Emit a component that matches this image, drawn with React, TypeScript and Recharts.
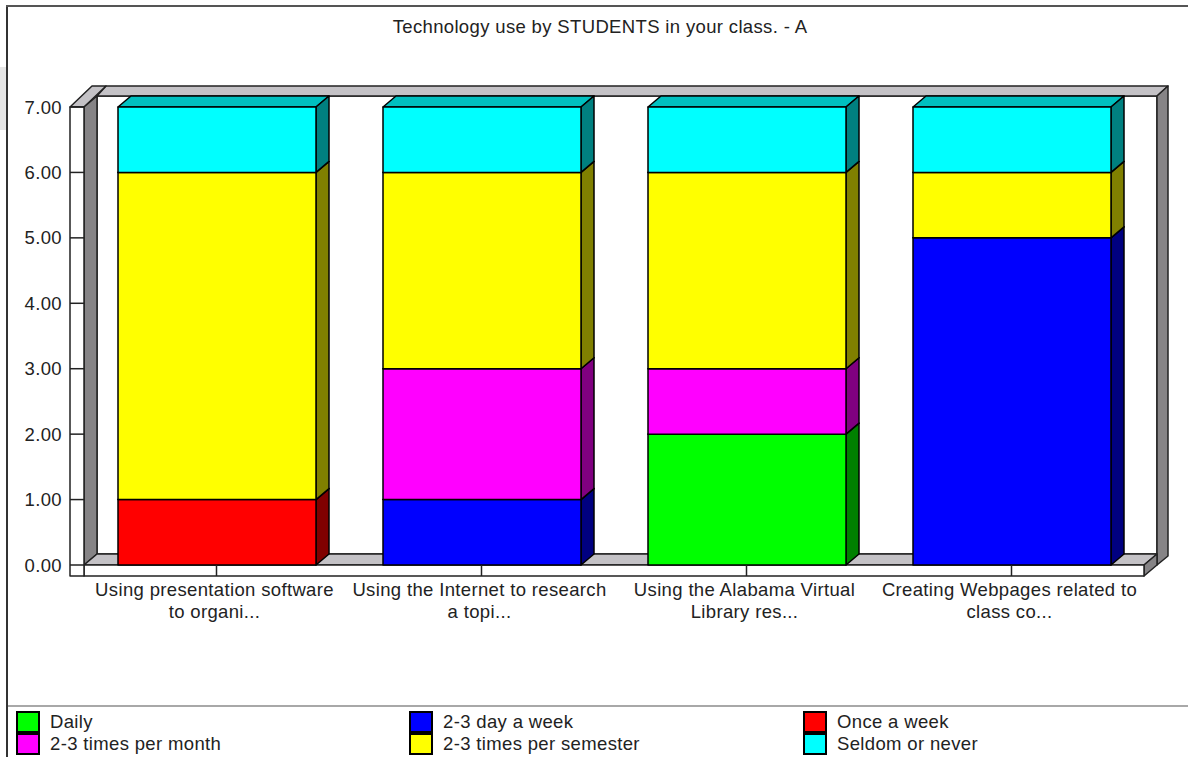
import { Bar, BarChart, Legend, XAxis, YAxis } from 'recharts';

const categoryLines = [
  ['Using presentation software', 'to organi...'],
  ['Using the Internet to research', 'a topi...'],
  ['Using the Alabama Virtual', 'Library res...'],
  ['Creating Webpages related to', 'class co...'],
];
const daily = [0, 0, 2, 0];
const dayAWeek = [0, 1, 0, 5];
const onceAWeek = [1, 0, 0, 0];
const timesPerMonth = [0, 2, 1, 0];
const timesPerSemester = [5, 3, 3, 1];
const seldom = [1, 1, 1, 1];
const yTicks = [0, 1, 2, 3, 4, 5, 6, 7];

const FONT = '"Liberation Sans", Arial, sans-serif';
const FONT_SIZE = 18.5;
const SPACING = 0.35;
const WIDTH = 1188;
const HEIGHT = 757;
const LEGEND_HEIGHT = 44;
const LEFT = 84;
const RIGHT = 1144;
const TOP = 107;
const BOTTOM = 565;
const STRIP = 11;
const DX = 13;
const DY = 11;

const data = categoryLines.map((lines, i) => ({
  name: lines.join(' '),
  daily: daily[i],
  dayAWeek: dayAWeek[i],
  onceAWeek: onceAWeek[i],
  timesPerMonth: timesPerMonth[i],
  timesPerSemester: timesPerSemester[i],
  seldom: seldom[i],
}));

const series = [
  { key: 'daily', name: 'Daily', front: '#00ff00', top: '#00c000', side: '#008000' },
  { key: 'dayAWeek', name: '2-3 day a week', front: '#0000ff', top: '#0000c0', side: '#000080' },
  { key: 'onceAWeek', name: 'Once a week', front: '#ff0000', top: '#c00000', side: '#800000' },
  { key: 'timesPerMonth', name: '2-3 times per month', front: '#ff00ff', top: '#c000c0', side: '#800080' },
  { key: 'timesPerSemester', name: '2-3 times per semester', front: '#ffff00', top: '#c0c000', side: '#808000' },
  { key: 'seldom', name: 'Seldom or never', front: '#00ffff', top: '#00c0c0', side: '#008080' },
];

function Box3D(props: any) {
  const { x, y, width, height, front, top, side } = props;
  if (!height) return null;
  const r = x + width;
  const b = y + height;
  return (
    <g stroke="#000" strokeWidth={1.5} strokeLinejoin="round">
      <polygon points={`${x},${y} ${x + DX},${y - DY} ${r + DX},${y - DY} ${r},${y}`} fill={top} />
      <polygon points={`${r},${y} ${r + DX},${y - DY} ${r + DX},${b - DY} ${r},${b}`} fill={side} />
      <rect x={x} y={y} width={width} height={height} fill={front} />
    </g>
  );
}

// walls and floor of the 3D box, behind the bars
function Frame() {
  const line = { stroke: '#222', strokeWidth: 1.5 };
  return (
    <g {...line} strokeLinejoin="round">
      <rect x={LEFT + DX} y={TOP - DY} width={RIGHT - LEFT} height={BOTTOM - TOP} fill="#fff" />
      <polygon
        points={`${LEFT + 22},${TOP - 21} ${RIGHT + 24},${TOP - 21} ${RIGHT + DX},${TOP - DY} ${LEFT + DX},${TOP - DY}`}
        fill="#c4c2c6"
      />
      <polygon
        points={`${LEFT - 14},${TOP} ${LEFT + 8},${TOP - 21} ${LEFT + 22},${TOP - 21} ${LEFT},${TOP}`}
        fill="#c4c2c6"
      />
      <polygon
        points={`${LEFT},${TOP} ${LEFT + DX},${TOP - DY} ${LEFT + DX},${BOTTOM - DY} ${LEFT},${BOTTOM}`}
        fill="#868486"
      />
      <polygon
        points={`${RIGHT + DX},${TOP - DY} ${RIGHT + 24},${TOP - 21} ${RIGHT + 24},${BOTTOM - 9} ${RIGHT + DX},${BOTTOM}`}
        fill="#868486"
      />
      <polygon
        points={`${LEFT},${BOTTOM} ${LEFT + DX},${BOTTOM - DY} ${RIGHT + DX},${BOTTOM - DY} ${RIGHT},${BOTTOM}`}
        fill="#c4c2c6"
      />
      <polygon
        points={`${RIGHT},${BOTTOM} ${RIGHT + DX},${BOTTOM - DY} ${RIGHT + DX},${BOTTOM} ${RIGHT},${BOTTOM + STRIP}`}
        fill="#868486"
      />
      <rect x={LEFT} y={BOTTOM} width={RIGHT - LEFT} height={STRIP} fill="#fff" />
      <rect x={LEFT - 14} y={TOP} width={14} height={BOTTOM + STRIP - TOP} fill="#fff" />
    </g>
  );
}

function CategoryTick(props: any) {
  const { x, y, index } = props;
  return (
    <text x={x - 2} y={y + 18} textAnchor="middle" fontSize={FONT_SIZE} fontFamily={FONT} letterSpacing={SPACING} fill="#222">
      {categoryLines[index].map((line, i) => (
        <tspan key={line} x={x - 2} dy={i ? 22 : 0}>
          {line}
        </tspan>
      ))}
    </text>
  );
}

function ChartLegend() {
  return (
    <div style={{ display: 'grid', gridTemplateColumns: '393px 394px 300px', fontFamily: FONT, fontSize: FONT_SIZE, letterSpacing: SPACING, color: '#222' }}>
      {series.map((s) => (
        <div key={s.key} style={{ display: 'flex', alignItems: 'center', height: 22 }}>
          <span style={{ width: 20, height: 18, border: '2px solid #000', background: s.front, marginRight: 10 }} />
          {s.name}
        </div>
      ))}
    </div>
  );
}

export default function App() {
  return (
    <div style={{ position: 'absolute', left: 0, top: 0, width: WIDTH, height: HEIGHT, background: '#fff', overflow: 'hidden' }}>
      <div style={{ position: 'absolute', left: 0, top: 67, width: 6, height: 63, background: '#e6e6e6' }} />
      <div style={{ position: 'absolute', left: 6, top: 5, width: 2, height: HEIGHT, background: '#333' }} />
      <div style={{ position: 'absolute', left: 6, top: 5, right: 0, height: 2, background: '#555' }} />
      <div style={{ position: 'absolute', left: 8, top: 705, right: 0, height: 2, background: '#a8a8a8' }} />
      <div style={{ position: 'absolute', left: 0, right: 0, top: 16, textAlign: 'center', fontFamily: FONT, fontSize: FONT_SIZE, letterSpacing: SPACING, color: '#222', marginLeft: 12 }}>
        Technology use by STUDENTS in your class. - A
      </div>
      <BarChart
        width={WIDTH}
        height={HEIGHT}
        data={data}
        barSize={198}
        margin={{ top: TOP, right: WIDTH - RIGHT, bottom: 0, left: 0 }}
        style={{ position: 'absolute', left: 0, top: 0 }}
      >
        <Frame />
        <XAxis
          dataKey="name"
          height={HEIGHT - BOTTOM - LEGEND_HEIGHT}
          axisLine={false}
          tickLine={{ stroke: '#222', strokeWidth: 1.5 }}
          tickSize={STRIP}
          interval={0}
          tick={<CategoryTick />}
        />
        <YAxis
          width={LEFT}
          domain={[0, 7]}
          ticks={yTicks}
          interval={0}
          axisLine={false}
          tickLine={{ stroke: '#222', strokeWidth: 1.5 }}
          tickSize={14}
          tickMargin={8}
          tickFormatter={(v: number) => v.toFixed(2)}
          tick={{ fontSize: FONT_SIZE, fontFamily: FONT, fill: '#222', letterSpacing: SPACING }}
        />
        {series.map((s) => (
          <Bar
            key={s.key}
            dataKey={s.key}
            name={s.name}
            stackId="a"
            fill={s.front}
            isAnimationActive={false}
            shape={(p: any) => <Box3D {...p} front={s.front} top={s.top} side={s.side} />}
          />
        ))}
        <Legend content={<ChartLegend />} wrapperStyle={{ position: 'absolute', left: 16, top: 711, width: 1170, bottom: 'auto' }} />
      </BarChart>
    </div>
  );
}
